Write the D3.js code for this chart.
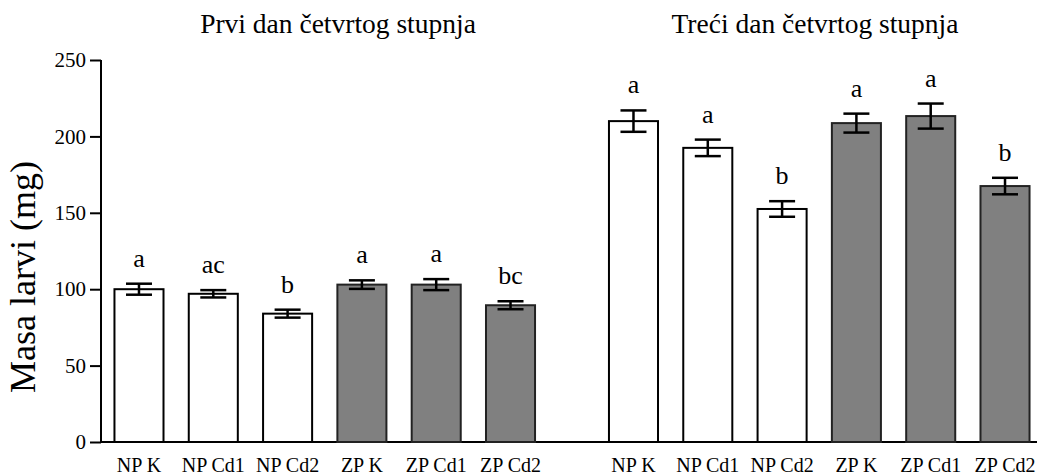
<!DOCTYPE html>
<html>
<head>
<meta charset="utf-8">
<script src="https://cdn.jsdelivr.net/npm/d3@7"></script>
<style>
  html, body { margin: 0; padding: 0; background: #fff; }
  svg { display: block; }
  svg text { font-family: "Liberation Serif", "Times New Roman", serif !important; fill: #000; }
</style>
</head>
<body>
<svg id="chart" width="1037" height="475"></svg>
<script>
const categories = ["NP K", "NP Cd1", "NP Cd2", "ZP K", "ZP Cd1", "ZP Cd2"];
const panelTitles = ["Prvi dan četvrtog stupnja", "Treći dan četvrtog stupnja"];
const day1Values = [100, 97, 84, 103, 103, 89.5];
const day1Errors = [3.6, 2.4, 2.6, 2.8, 3.6, 2.6];
const day1Letters = ["a", "ac", "b", "a", "a", "bc"];
const day3Values = [210, 192.5, 152.5, 208.7, 213.3, 167.5];
const day3Errors = [7, 5.4, 5.1, 6.2, 8.2, 5.4];
const day3Letters = ["a", "a", "b", "a", "a", "b"];
const yTicks = [0, 50, 100, 150, 200, 250];
const yLabel = "Masa larvi (mg)";

const FONT = "'Liberation Serif', 'Times New Roman', serif";
const svg = d3.select("#chart");
const y = d3.scaleLinear().domain([0, 250]).range([442, 60]);

const panels = [
  { title: panelTitles[0], values: day1Values, errors: day1Errors, letters: day1Letters, range: [99.6, 549.9], titleX: 338 },
  { title: panelTitles[1], values: day3Values, errors: day3Errors, letters: day3Letters, range: [594.1, 1044.4], titleX: 815 }
];

// Y axis
const yAxis = d3.axisLeft(y).tickValues(yTicks).tickSize(11).tickPadding(4);
const yg = svg.append("g").attr("transform", "translate(101,0)").call(yAxis)
  .attr("font-family", FONT);
yg.select(".domain").attr("stroke", "#000").attr("stroke-width", 2).attr("d", "M0,60V442");
yg.selectAll(".tick line").attr("stroke", "#000").attr("stroke-width", 2);
yg.selectAll(".tick text").style("font-family", FONT).style("font-size", "21px").attr("fill", "#000");

svg.append("text")
  .attr("transform", "translate(35,277) rotate(-90)")
  .attr("text-anchor", "middle")
  .style("font-family", FONT)
  .style("font-size", "36px")
  .text(yLabel);

// X axis baseline spanning both panels
svg.append("line")
  .attr("x1", 100).attr("x2", 1037)
  .attr("y1", y(0)).attr("y2", y(0))
  .attr("stroke", "#000").attr("stroke-width", 2);

panels.forEach(p => {
  const x = d3.scaleBand().domain(categories).range(p.range).paddingInner(0.34).paddingOuter(0.2);
  const g = svg.append("g");
  const data = categories.map((c, i) => ({ c, v: p.values[i], e: p.errors[i], l: p.letters[i], i }));

  g.selectAll("rect.bar").data(data).enter().append("rect")
    .attr("class", "bar")
    .attr("x", d => x(d.c))
    .attr("width", x.bandwidth())
    .attr("y", d => y(d.v))
    .attr("height", d => y(0) - y(d.v))
    .attr("fill", d => d.i < 3 ? "#ffffff" : "#808080")
    .attr("stroke", d => d.i < 3 ? "#000" : "#222")
    .attr("stroke-width", 2);

  const capW = 26;
  const eb = g.selectAll("g.err").data(data).enter().append("g").attr("class", "err");
  eb.append("line")
    .attr("x1", d => x(d.c) + x.bandwidth() / 2).attr("x2", d => x(d.c) + x.bandwidth() / 2)
    .attr("y1", d => y(d.v + d.e)).attr("y2", d => y(d.v - d.e))
    .attr("stroke", "#000").attr("stroke-width", 2.5);
  [1, -1].forEach(s => {
    eb.append("line")
      .attr("x1", d => x(d.c) + x.bandwidth() / 2 - capW / 2)
      .attr("x2", d => x(d.c) + x.bandwidth() / 2 + capW / 2)
      .attr("y1", d => y(d.v + s * d.e)).attr("y2", d => y(d.v + s * d.e))
      .attr("stroke", "#000").attr("stroke-width", 2.5);
  });

  g.selectAll("text.letter").data(data).enter().append("text")
    .attr("class", "letter")
    .attr("x", d => x(d.c) + x.bandwidth() / 2)
    .attr("y", d => y(d.v + d.e) - 17)
    .attr("text-anchor", "middle")
    .style("font-family", FONT)
    .style("font-size", "26px")
    .text(d => d.l);

  g.selectAll("text.cat").data(data).enter().append("text")
    .attr("class", "cat")
    .attr("x", d => x(d.c) + x.bandwidth() / 2)
    .attr("y", 472)
    .attr("text-anchor", "middle")
    .style("font-family", FONT)
    .style("font-size", "20px")
    .text(d => d.c);

  svg.append("text")
    .attr("x", p.titleX).attr("y", 33)
    .attr("text-anchor", "middle")
    .style("font-family", FONT)
    .style("font-size", "27.5px")
    .text(p.title);
});
</script>
</body>
</html>
